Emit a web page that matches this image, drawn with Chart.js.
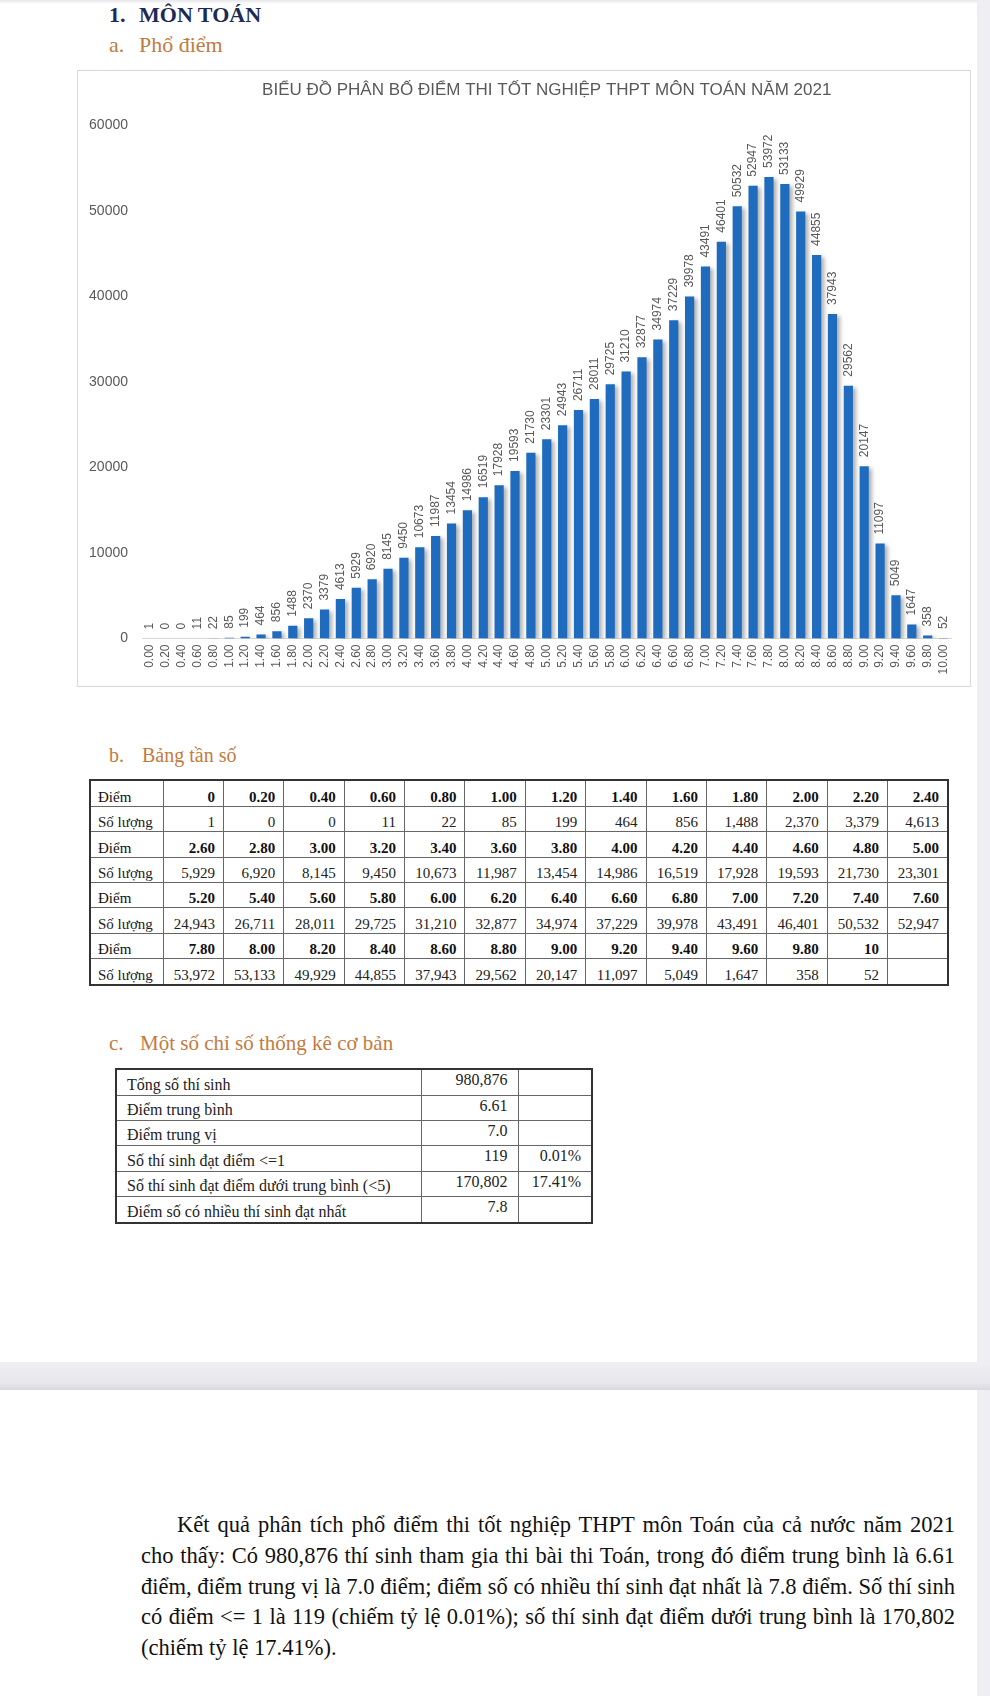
<!DOCTYPE html>
<html lang="vi">
<head>
<meta charset="utf-8">
<script src="https://cdn.jsdelivr.net/npm/chart.js@4.4.1/dist/chart.umd.min.js"></script>
<style>
html,body{margin:0;padding:0;}
body{width:990px;height:1696px;position:relative;background:#fff;overflow:hidden;font-family:"Liberation Serif","Times New Roman",serif;}
.topshade{position:absolute;left:0;top:0;width:990px;height:4px;background:linear-gradient(#e6e5ea,#fff);}
.strip{position:absolute;left:977px;top:0;width:13px;height:1696px;background:#efeef3;}
.band{position:absolute;left:0;top:1362px;width:990px;height:28px;background:linear-gradient(#efeef2,#e8e7ec 75%,#d9d8de);}
.h1{position:absolute;top:4.3px;left:109px;font-size:22px;font-weight:bold;color:#1c2a55;line-height:22px;white-space:nowrap;}
.h2{position:absolute;left:109px;font-size:22px;color:#c27b42;line-height:22px;white-space:nowrap;}
.h1 .n,.h2 .n{display:inline-block;width:30px;}
#chartBox{position:absolute;left:77px;top:70px;width:894px;height:617px;border:1px solid #d9d9d9;box-sizing:border-box;background:#fff;}
#chartBox canvas{display:block;}
#freq{position:absolute;left:89px;top:779px;width:858px;height:207px;border-collapse:collapse;table-layout:fixed;border:2px solid #333;font-size:15px;color:#222;}
#freq td{border:1px solid #666;padding:0 8px 0 7px;vertical-align:bottom;line-height:17px;height:20px;text-align:right;white-space:nowrap;overflow:hidden;}
#freq td.lab{text-align:left;}
#freq tr.score td{font-weight:bold;color:#111;}
#freq tr.score td.lab{font-weight:normal;}
#stats{position:absolute;left:115px;top:1068px;width:476px;height:156px;border-collapse:collapse;table-layout:fixed;border:2px solid #333;font-size:16px;color:#222;}
#stats td{border:1px solid #666;height:20px;line-height:18px;white-space:nowrap;overflow:hidden;}
#stats td.lab{text-align:left;vertical-align:bottom;padding:0 4px 1px 10px;}
#stats td.val{text-align:right;vertical-align:top;padding:1px 10px 0 4px;}
#stats td.pct{text-align:right;vertical-align:top;padding:1px 10px 0 2px;}
.para{position:absolute;left:141px;width:814px;top:1510px;font-size:22.5px;line-height:30.8px;color:#111;}
.para div{text-align:justify;text-align-last:justify;white-space:nowrap;}
.para div.first{padding-left:36px;}
.para div.last{text-align:left;text-align-last:left;}
</style>
</head>
<body>
<div class="topshade"></div>
<div class="strip"></div>
<div class="band"></div>

<div class="h1"><span class="n">1.</span>MÔN TOÁN</div>
<div class="h2" style="top:34.3px;"><span class="n">a.</span>Phổ điểm</div>

<div id="chartBox"><canvas id="c" width="892" height="615"></canvas></div>

<div class="h2" style="top:745px;font-size:20px;line-height:20px;"><span class="n" style="width:33px;">b.</span>Bảng tần số</div>
<table id="freq"><colgroup id="freqCols"></colgroup><tbody id="freqBody"></tbody></table>

<div class="h2" style="top:1033px;font-size:21px;line-height:21px;"><span class="n" style="width:31px;">c.</span>Một số chỉ số thống kê cơ bản</div>
<table id="stats"><colgroup><col style="width:305px"><col style="width:97px"><col style="width:74px"></colgroup><tbody id="statsBody"></tbody></table>

<div class="para">
<div class="first">Kết quả phân tích phổ điểm thi tốt nghiệp THPT môn Toán của cả nước năm 2021</div>
<div>cho thấy: Có 980,876 thí sinh tham gia thi bài thi Toán, trong đó điểm trung bình là 6.61</div>
<div>điểm, điểm trung vị là 7.0 điểm; điểm số có nhiều thí sinh đạt nhất là 7.8 điểm. Số thí sinh</div>
<div>có điểm &lt;= 1 là 119 (chiếm tỷ lệ 0.01%); số thí sinh đạt điểm dưới trung bình là 170,802</div>
<div class="last">(chiếm tỷ lệ 17.41%).</div>
</div>

<script>
// ---- Data ----
const scoreLabels = ['0.00','0.20','0.40','0.60','0.80','1.00','1.20','1.40','1.60','1.80',
  '2.00','2.20','2.40','2.60','2.80','3.00','3.20','3.40','3.60','3.80',
  '4.00','4.20','4.40','4.60','4.80','5.00','5.20','5.40','5.60','5.80',
  '6.00','6.20','6.40','6.60','6.80','7.00','7.20','7.40','7.60','7.80',
  '8.00','8.20','8.40','8.60','8.80','9.00','9.20','9.40','9.60','9.80','10.00'];
const studentCounts = [1,0,0,11,22,85,199,464,856,1488,
  2370,3379,4613,5929,6920,8145,9450,10673,11987,13454,
  14986,16519,17928,19593,21730,23301,24943,26711,28011,29725,
  31210,32877,34974,37229,39978,43491,46401,50532,52947,53972,
  53133,49929,44855,37943,29562,20147,11097,5049,1647,358,52];
const tableScoreLabels = ['0','0.20','0.40','0.60','0.80','1.00','1.20','1.40','1.60','1.80',
  '2.00','2.20','2.40','2.60','2.80','3.00','3.20','3.40','3.60','3.80',
  '4.00','4.20','4.40','4.60','4.80','5.00','5.20','5.40','5.60','5.80',
  '6.00','6.20','6.40','6.60','6.80','7.00','7.20','7.40','7.60','7.80',
  '8.00','8.20','8.40','8.60','8.80','9.00','9.20','9.40','9.60','9.80','10'];
const yMin = 0, yMax = 60000, yStep = 10000;
const chartTitle = 'BIỂU ĐỒ PHÂN BỐ ĐIỂM THI TỐT NGHIỆP THPT MÔN TOÁN NĂM 2021';
const statLabels = ['Tổng số thí sinh','Điểm trung bình','Điểm trung vị','Số thí sinh đạt điểm <=1','Số thí sinh đạt điểm dưới trung bình (<5)','Điểm số có nhiều thí sinh đạt nhất'];
const statValues = ['980,876','6.61','7.0','119','170,802','7.8'];
const statPercents = ['','','','0.01%','17.41%',''];

// ---- Frequency table ----
(function(){
  const cols = document.getElementById('freqCols');
  let c = document.createElement('col'); c.style.width='73px'; cols.appendChild(c);
  for (let i=0;i<13;i++){ c=document.createElement('col'); c.style.width='60.38px'; cols.appendChild(c); }
  const body = document.getElementById('freqBody');
  const perRow = 13;
  for (let g=0; g*perRow < studentCounts.length; g++){
    const tr1 = document.createElement('tr'); tr1.className='score';
    const tr2 = document.createElement('tr');
    let td = document.createElement('td'); td.className='lab'; td.textContent='Điểm'; tr1.appendChild(td);
    td = document.createElement('td'); td.className='lab'; td.textContent='Số lượng'; tr2.appendChild(td);
    for (let k=0;k<perRow;k++){
      const i = g*perRow+k;
      const a = document.createElement('td'); const b = document.createElement('td');
      if (i < studentCounts.length){
        a.textContent = tableScoreLabels[i];
        b.textContent = studentCounts[i].toLocaleString('en-US');
      }
      tr1.appendChild(a); tr2.appendChild(b);
    }
    body.appendChild(tr1); body.appendChild(tr2);
  }
  const sb = document.getElementById('statsBody');
  statLabels.forEach((l,i)=>{
    const tr = document.createElement('tr');
    const a=document.createElement('td'); a.className='lab'; a.textContent=l;
    const b=document.createElement('td'); b.className='val'; b.textContent=statValues[i];
    const p=document.createElement('td'); p.className='pct'; p.textContent=statPercents[i];
    tr.appendChild(a); tr.appendChild(b); tr.appendChild(p); sb.appendChild(tr);
  });
})();

// ---- Chart ----
const barShadow = {
  id: 'barShadow',
  beforeDatasetsDraw(chart){
    const ctx = chart.ctx; ctx.save();
    ctx.shadowColor = 'rgba(0,0,0,0.32)';
    ctx.shadowBlur = 4; ctx.shadowOffsetX = 3; ctx.shadowOffsetY = 2;
  },
  afterDatasetsDraw(chart){ chart.ctx.restore(); }
};
const valueLabels = {
  id: 'valueLabels',
  afterDatasetsDraw(chart){
    const ctx = chart.ctx;
    const meta = chart.getDatasetMeta(0);
    const data = chart.data.datasets[0].data;
    ctx.save();
    ctx.font = '12px "Liberation Sans", Arial, sans-serif';
    ctx.fillStyle = '#595959';
    ctx.textAlign = 'left';
    ctx.textBaseline = 'middle';
    meta.data.forEach((bar, i) => {
      ctx.save();
      ctx.translate(bar.x, bar.y - 9);
      ctx.rotate(-Math.PI/2);
      ctx.fillText(String(data[i]), 0, 0);
      ctx.restore();
    });
    ctx.restore();
  }
};

new Chart(document.getElementById('c'), {
  type: 'bar',
  data: {
    labels: scoreLabels,
    datasets: [{
      data: studentCounts,
      backgroundColor: '#1f6cbf',
      borderWidth: 0,
      barPercentage: 0.58,
      categoryPercentage: 1.0
    }]
  },
  options: {
    responsive: false,
    animation: false,
    layout: { padding: { left: 10, right: 18.5, top: 0, bottom: 0 } },
    plugins: {
      legend: { display: false },
      tooltip: { enabled: false },
      title: {
        display: true,
        text: chartTitle,
        fullSize: false,
        color: '#595959',
        font: { family: '"Liberation Sans", Arial, sans-serif', size: 17, weight: 'normal' },
        padding: { top: 9, bottom: 25 }
      }
    },
    scales: {
      x: {
        grid: { display: false, drawTicks: false },
        border: { display: true, color: '#d9d9d9', width: 1 },
        ticks: {
          color: '#595959',
          font: { family: '"Liberation Sans", Arial, sans-serif', size: 12 },
          minRotation: 90, maxRotation: 90, autoSkip: false, padding: 6
        },
        afterFit(s){ s.height = 47.5; }
      },
      y: {
        min: yMin, max: yMax,
        grid: { display: false, drawTicks: false },
        border: { display: false },
        ticks: {
          stepSize: yStep,
          color: '#595959',
          font: { family: '"Liberation Sans", Arial, sans-serif', size: 14 },
          padding: 14,
          callback: v => String(v)
        },
        afterFit(s){ s.width = 54; }
      }
    }
  },
  plugins: [barShadow, valueLabels]
});
</script>
</body>
</html>
